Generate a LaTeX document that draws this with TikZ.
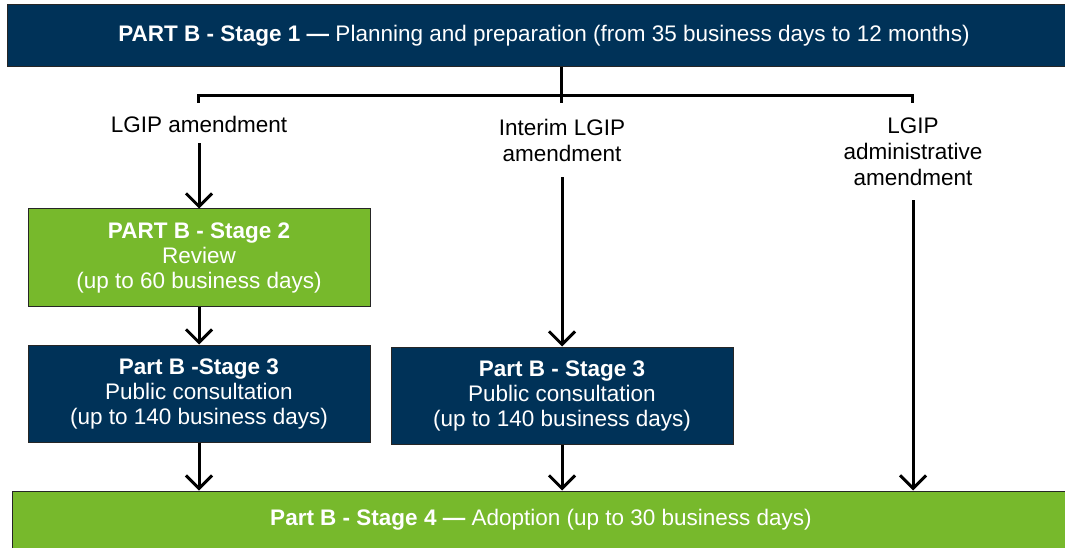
\documentclass[tikz,border=0pt]{standalone}
\usepackage{fontspec}
\setmainfont{Liberation Sans}
\usetikzlibrary{arrows.meta}
\definecolor{navy}{RGB}{0,50,88}
\definecolor{leaf}{RGB}{119,185,44}
\tikzset{
  box/.style={draw=black!85, line width=1pt, text=white, align=center, inner sep=0pt,
    font=\fontsize{22.5}{25}\selectfont},
  navybox/.style={box, fill=navy},
  greenbox/.style={box, fill=leaf},
  lbl/.style={align=center, inner sep=5pt, font=\fontsize{22.5}{26}\selectfont},
  conn/.style={line width=3pt},
  arr/.style={conn, -{Straight Barb[length=13pt,width=26pt]}},
}
\begin{document}
\begin{tikzpicture}[x=1pt,y=-1pt]
\useasboundingbox (0,0) rectangle (1065,548);
\clip (0,0) rectangle (1065,548);
% top bar
\node[navybox, minimum width=1074, minimum height=62] (s1) at (544,36)
  {\textbf{PART B - Stage 1 —} Planning and preparation (from 35 business days to 12 months)};
% branch connector
\coordinate (j) at (561,96);
\coordinate (jm) at (561,103);
\coordinate (jl) at (198,96);
\coordinate (jld) at (198,103);
\coordinate (jr) at (912,96);
\coordinate (jrd) at (912,103);
\draw[conn] (s1.south -| j) -- (jm);
\draw[conn] (jld) -- (jl) -- (jr) -- (jrd);
% labels
\node[lbl] (l1) at (199,124) {LGIP amendment};
\node[lbl] (l2) at (562,140) {Interim LGIP\\amendment};
\node[lbl] (l3) at (913,152) {LGIP\\administrative\\amendment};
% boxes
\node[greenbox, minimum width=342, minimum height=97] (s2) at (199,257.5)
  {\textbf{PART B - Stage 2}\\Review\\(up to 60 business days)};
\node[navybox, minimum width=342, minimum height=97] (s3a) at (199,393.5)
  {\textbf{Part B -Stage 3}\\Public consultation\\(up to 140 business days)};
\node[navybox, minimum width=342, minimum height=97] (s3b) at (562,395.5)
  {\textbf{Part B - Stage 3}\\Public consultation\\(up to 140 business days)};
\node[greenbox, minimum width=1058, minimum height=57] (s4) at (541,519.5)
  {\textbf{Part B - Stage 4 —} Adoption (up to 30 business days)};
% arrows
\draw[arr, shorten <=6pt] (l1.south -| s2.north) -- (s2.north);
\draw[arr] (s2.south) -- (s3a.north);
\draw[arr] (s3a.south) -- (s3a.south |- s4.north);
\draw[arr, shorten <=11pt] (l2.south -| s3b.north) -- (s3b.north);
\draw[arr] (s3b.south) -- (s3b.south |- s4.north);
\draw[arr, shorten <=9pt] (l3.south) -- (l3.south |- s4.north);
\end{tikzpicture}
\end{document}
